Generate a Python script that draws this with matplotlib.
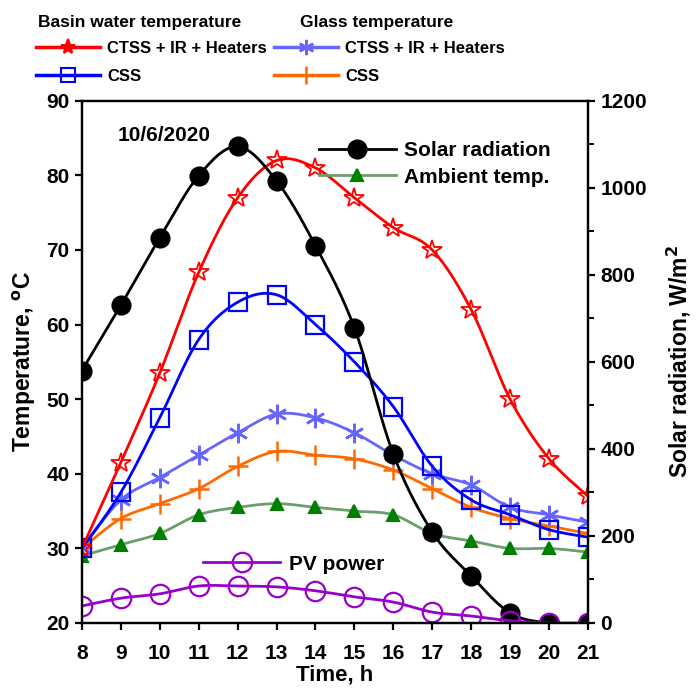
import numpy as np
import matplotlib.pyplot as plt

plt.rcParams['font.family'] = ['Liberation Sans', 'DejaVu Sans']
plt.rcParams['font.weight'] = 'bold'

hours = [8, 9, 10, 11, 12, 13, 14, 15, 16, 17, 18, 19, 20, 21]

# basin water temperature, degC
basin_ctss = [30, 41.5, 53.5, 67, 77, 82, 81, 77, 73, 70, 62, 50, 42, 37]
basin_css = [30, 37.5, 47.5, 58, 63, 64, 60, 55, 49, 41, 36.5, 34.5, 32.5, 31.5]
# glass temperature, degC
glass_ctss = [30, 36.5, 39.5, 42.5, 45.5, 48, 47.5, 45.5, 42.5, 40, 38.5, 35.5, 34.5, 33.5]
glass_css = [30, 34, 36, 38, 41, 43, 42.5, 42, 40.5, 38, 35.5, 34, 33, 32]
ambient = [29, 30.5, 32, 34.5, 35.5, 36, 35.5, 35, 34.5, 32, 31, 30, 30, 29.5]
# right axis, W/m2
solar = [580, 730, 885, 1028, 1095, 1016, 867, 678, 388, 209, 108, 23, 0, 0]
pv_power = [39, 57, 67, 85, 85, 83, 74, 60, 48, 25, 16, 5, 0, 0]


def smooth(x, y, n=24):
    # Catmull-Rom style curve through the points
    x = np.asarray(x, float)
    y = np.asarray(y, float)
    p = np.column_stack([x, y])
    p = np.vstack([p[0], p, p[-1]])
    t = np.linspace(0, 1, n)[:, None]
    out = []
    for i in range(1, len(p) - 2):
        p0, p1, p2, p3 = p[i - 1], p[i], p[i + 1], p[i + 2]
        c1 = p1 + (p2 - p0) / 6
        c2 = p2 - (p3 - p1) / 6
        seg = ((1 - t) ** 3) * p1 + 3 * ((1 - t) ** 2) * t * c1 + 3 * (1 - t) * t ** 2 * c2 + t ** 3 * p2
        out.append(seg if i == 1 else seg[1:])
    out = np.vstack(out)
    return out[:, 0], out[:, 1]


def series(ax, x, y, color, marker, ms, mfc=None, lc=None, mew=1.5, lw=2):
    sx, sy = smooth(x, y)
    ax.plot(sx, sy, color=lc or color, lw=lw)
    ax.plot(x, y, ls='none', marker=marker, ms=ms, color=color,
            mfc=mfc if mfc is not None else color, mec=color, mew=mew)


def handle(color, marker, ms, mfc=None, lc=None, mew=1.5, lw=2.5):
    return plt.Line2D([], [], color=lc or color, lw=lw, marker=marker, ms=ms,
                      mfc=mfc if mfc is not None else color, mec=color, mew=mew)


fig = plt.figure(figsize=(7, 6.88), dpi=100)
ax = fig.add_axes([0.117, 0.0945, 0.723, 0.759])
ax2 = ax.twinx()

series(ax, hours, ambient, '#008000', '^', 9, lc='#6b9e6b')
series(ax, hours, glass_css, '#ff6a00', '+', 15, mew=1.8)
series(ax, hours, glass_ctss, '#6666ff', (6, 2, 0), 14, mew=1.8)
series(ax, hours, basin_css, '#0000ff', 's', 13, mfc='none', mew=1.6)
series(ax, hours, basin_ctss, '#ff0000', '*', 15, mfc='none', mew=1.3)

series(ax2, hours, solar, 'black', 'o', 13)
series(ax2, hours, pv_power, '#9900cc', 'o', 14, mfc='none', mew=1.6)

ax.set_xlim(8, 21)
ax.set_ylim(20, 90)
ax2.set_ylim(0, 1200)
ax.set_xticks(hours)
ax.set_yticks(range(20, 91, 10))
ax2.set_yticks(range(0, 1201, 200))
ax2.set_yticks(range(100, 1200, 200), minor=True)

for a in (ax, ax2):
    for s in a.spines.values():
        s.set_linewidth(1.6)
    a.tick_params(which='major', direction='out', length=5, width=1.6, labelsize=15)
    a.tick_params(which='minor', direction='out', length=4, width=1.4)
ax.tick_params(axis='x', pad=10)
ax.tick_params(axis='y', pad=4)
ax2.tick_params(axis='y', pad=4)

ax.set_xlabel('Time, h', fontsize=16, fontweight='bold', labelpad=1)
ax.set_ylabel('Temperature, $^{\\mathrm{o}}$C', fontsize=16.5, fontweight='bold', labelpad=6)
ax2.set_ylabel('Solar radiation, W/m$^{\\mathbf{2}}$', fontsize=16.5, fontweight='bold', labelpad=13)

ax.text(8.93, 85.4, '10/6/2020', fontsize=15, fontweight='bold', va='center')

# group headings and entries above the plot
top_kw = dict(frameon=False, handlelength=3.85, handletextpad=0.42, labelspacing=0.78,
              borderpad=0.4, prop={'size': 12, 'weight': 'bold'})
fig.text(140 / 700, 1 - 22 / 688, 'Basin water temperature', ha='center', va='center',
         size=12.5, weight='bold')
fig.text(377 / 700, 1 - 22 / 688, 'Glass temperature', ha='center', va='center',
         size=12.5, weight='bold')
fig.legend([handle('#ff0000', '*', 11), handle('#0000ff', 's', 10, mfc='none')],
           ['CTSS + IR + Heaters', 'CSS'], loc='upper left',
           bbox_to_anchor=(21 / 700, 1 - 26 / 688), **top_kw)
fig.legend([handle('#6666ff', (6, 2, 0), 11, mew=1.8), handle('#ff6a00', '+', 13, mew=1.8)],
           ['CTSS + IR + Heaters', 'CSS'], loc='upper left',
           bbox_to_anchor=(259 / 700, 1 - 26 / 688), **top_kw)

in_kw = dict(frameon=False, handlelength=3.7, handletextpad=0.4, labelspacing=0.35,
             borderpad=0.4, prop={'size': 15, 'weight': 'bold'})
ax2.legend([handle('black', 'o', 13, lw=2), handle('#008000', '^', 9, lc='#6b9e6b', lw=2)],
           ['Solar radiation', 'Ambient temp.'], loc='upper left',
           bbox_to_anchor=(0.431, 0.958), **in_kw)
ax.legend([handle('#9900cc', 'o', 14, mfc='none', mew=1.6, lw=2)], ['PV power'], loc='upper left',
          bbox_to_anchor=(0.203, 0.167), **in_kw)

fig.savefig('out.png', dpi=100)
